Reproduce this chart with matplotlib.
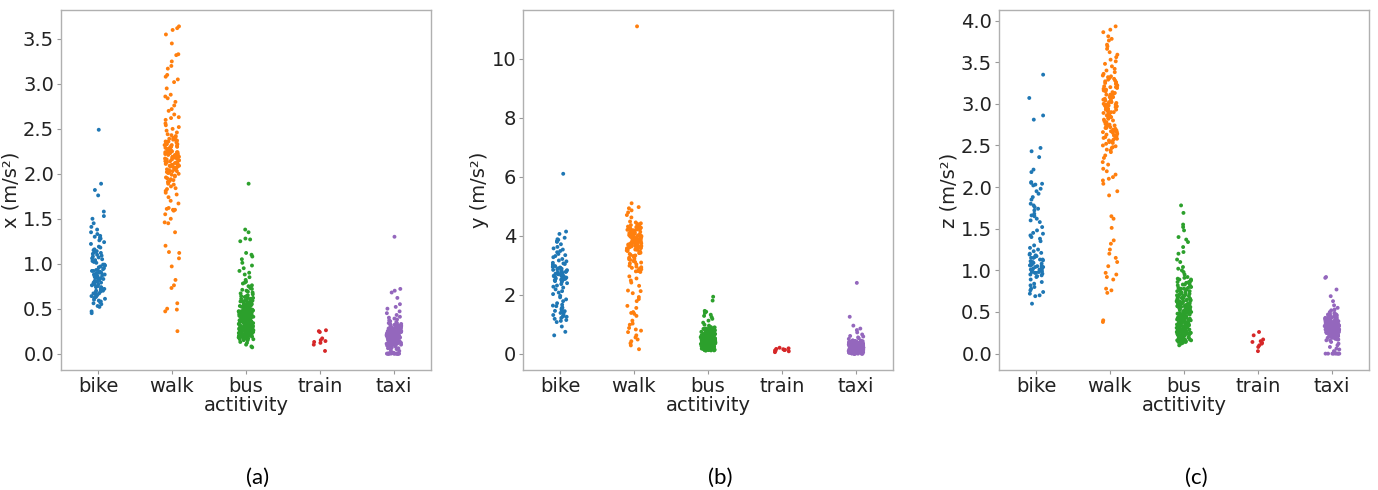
import numpy as np
import pandas as pd
import matplotlib
matplotlib.use('Agg')
import matplotlib.pyplot as plt
import seaborn as sns

activities = ['bike', 'walk', 'bus', 'train', 'taxi']
colors = ['#1f77b4', '#ff7f0e', '#2ca02c', '#d62728', '#9467bd']

# ---- panel (a): x acceleration ----
x_bike = [2.49, 1.89, 1.82, 1.76, 1.58, 1.53, 1.50, 1.45, 1.41, 1.38, 1.35, 1.33, 1.31, 1.30, 1.28,
          1.26, 1.22, 1.19, 1.16, 1.14, 1.13, 1.12, 1.10, 1.08, 1.07, 1.05, 1.04, 1.02, 1.01, 0.99,
          0.98, 0.97, 0.95, 0.94, 0.93, 0.92, 0.91, 0.90, 0.89, 0.88, 0.87, 0.86, 0.86, 0.85, 0.84,
          0.83, 0.82, 0.81, 0.80, 0.80, 0.79, 0.78, 0.77, 0.76, 0.75, 0.74, 0.74, 0.73, 0.72, 0.71,
          0.70, 0.69, 0.68, 0.67, 0.66, 0.65, 0.64, 0.62, 0.61, 0.60, 0.58, 0.57, 0.55, 0.53, 0.52,
          0.47, 0.45, 1.15, 1.11, 1.06, 1.03, 0.96, 0.92, 0.88, 0.84, 0.82, 0.79, 0.77, 0.72, 0.70,
          0.90, 0.93, 0.99, 1.09, 1.18, 1.24, 1.29, 0.63, 0.59, 0.56, 0.67, 0.71, 0.87]
x_walk = [3.64, 3.62, 3.60, 3.55, 3.45, 3.33, 3.32, 3.25, 3.20, 3.17, 3.10, 3.08, 3.05, 3.02, 2.95,
          2.88, 2.86, 2.84, 2.80, 2.76, 2.72, 2.70, 2.66, 2.63, 2.62, 2.60, 2.56, 2.54, 2.52, 2.50,
          2.31, 2.27, 2.36, 2.18, 2.22, 2.09, 2.14, 2.33, 2.25, 2.41, 2.05, 1.98, 2.12, 2.20, 2.29,
          2.38, 2.16, 2.02, 1.94, 2.24, 2.35, 2.11, 2.07, 2.19, 2.28, 2.44, 1.89, 2.03, 2.15, 2.21,
          2.32, 2.26, 2.13, 2.08, 1.96, 2.23, 2.17, 2.30, 2.39, 2.01, 1.86, 2.10, 2.34, 2.24, 2.19,
          2.06, 2.27, 2.15, 2.42, 1.92, 2.00, 2.12, 2.37, 2.22, 2.29, 1.84, 2.04, 2.18, 2.33, 2.09,
          2.25, 2.46, 1.81, 1.99, 2.14, 2.20, 2.31, 2.36, 2.11, 2.03, 1.79, 1.95, 2.26, 2.16, 2.40,
          2.07, 2.23, 1.88, 2.13, 2.28, 2.35, 2.02, 1.91, 2.21, 2.10, 2.32, 2.17, 2.43, 1.83, 2.05,
          2.19, 2.38, 1.97, 2.08, 2.24, 2.30, 2.14, 1.93, 2.48, 2.01,
          1.77, 1.74, 1.70, 1.67, 1.62, 1.61, 1.60, 1.60, 1.59, 1.55, 1.50, 1.46, 1.45,
          1.35, 1.20, 1.13, 1.12, 1.06, 0.97, 0.82, 0.76, 0.73, 0.56, 0.50, 0.49, 0.47, 0.25]
x_bus = [1.89, 1.38, 1.35, 1.28, 1.27, 1.25, 1.12, 1.10, 1.08, 1.05, 1.01, 0.98, 0.95, 0.92, 0.90,
         0.88, 0.85, 0.82, 0.80, 0.79, 0.78, 0.76, 0.75, 0.73, 0.72, 0.71, 0.07, 0.08, 0.10, 0.12, 0.13,
         0.31, 0.45, 0.22, 0.58, 0.37, 0.19, 0.41, 0.28, 0.53, 0.34, 0.26, 0.62, 0.47, 0.17, 0.39,
         0.55, 0.24, 0.33, 0.49, 0.21, 0.36, 0.44, 0.29, 0.67, 0.18, 0.52, 0.40, 0.27, 0.35, 0.60,
         0.23, 0.46, 0.32, 0.57, 0.20, 0.43, 0.38, 0.25, 0.50, 0.30, 0.64, 0.16, 0.42, 0.35, 0.56,
         0.28, 0.48, 0.22, 0.37, 0.33, 0.59, 0.19, 0.45, 0.27, 0.51, 0.39, 0.24, 0.68, 0.31, 0.44,
         0.21, 0.36, 0.54, 0.29, 0.41, 0.17, 0.47, 0.34, 0.26, 0.61, 0.38, 0.23, 0.49, 0.32, 0.15,
         0.43, 0.57, 0.28, 0.35, 0.20, 0.52, 0.40, 0.25, 0.65, 0.30, 0.46, 0.18, 0.37, 0.55, 0.27,
         0.42, 0.33, 0.22, 0.58, 0.39, 0.48, 0.24, 0.31, 0.63, 0.19, 0.44, 0.36, 0.53, 0.26, 0.40,
         0.29, 0.70, 0.21, 0.47, 0.34, 0.56, 0.23, 0.38, 0.45, 0.17, 0.32, 0.50, 0.28, 0.41, 0.25,
         0.60, 0.35, 0.20, 0.43, 0.30, 0.54, 0.37, 0.16, 0.48, 0.27, 0.39, 0.66, 0.22, 0.33, 0.46,
         0.29, 0.52, 0.18, 0.42, 0.36, 0.24, 0.57, 0.31, 0.44, 0.21, 0.38, 0.49, 0.26, 0.62, 0.34,
         0.19, 0.41, 0.30, 0.55, 0.23, 0.47, 0.35, 0.28, 0.40, 0.59, 0.17, 0.32, 0.45, 0.25, 0.51,
         0.37, 0.20, 0.43, 0.29, 0.64, 0.36, 0.22, 0.48, 0.33, 0.27, 0.53, 0.39, 0.18, 0.44, 0.31,
         0.69, 0.24, 0.40, 0.35, 0.58, 0.21, 0.46, 0.30, 0.26, 0.50, 0.38, 0.15, 0.42, 0.34, 0.61,
         0.28, 0.47, 0.23, 0.37, 0.54]
x_train = [0.26, 0.24, 0.25, 0.14, 0.12, 0.15, 0.17, 0.10, 0.03, 0.13]
x_taxi = [1.30, 0.72, 0.70, 0.68, 0.62, 0.55, 0.52, 0.50, 0.47, 0.45, 0.43, 0.41, 0.40, 0.39, 0.38,
          0.37, 0.36, 0.0, 0.0, 0.0, 0.0, 0.0, 0.0, 0.0, 0.0, 0.0, 0.0, 0.0, 0.0, 0.0, 0.0,
          0.01, 0.01, 0.01, 0.01,
          0.18, 0.25, 0.12, 0.31, 0.21, 0.09, 0.27, 0.15, 0.22, 0.33, 0.14, 0.19, 0.28, 0.07, 0.24,
          0.17, 0.30, 0.11, 0.23, 0.20, 0.26, 0.13, 0.34, 0.16, 0.21, 0.29, 0.10, 0.25, 0.18, 0.05,
          0.22, 0.32, 0.14, 0.27, 0.19, 0.24, 0.12, 0.30, 0.17, 0.23, 0.08, 0.26, 0.20, 0.15, 0.28,
          0.22, 0.11, 0.35, 0.18, 0.25, 0.13, 0.21, 0.31, 0.16, 0.24, 0.06, 0.19, 0.27, 0.14, 0.22,
          0.29, 0.17, 0.10, 0.23, 0.20, 0.33, 0.15, 0.26, 0.12, 0.18, 0.25, 0.21, 0.09, 0.28, 0.16,
          0.24, 0.19, 0.30, 0.13, 0.22, 0.04, 0.27, 0.17, 0.20, 0.32, 0.14, 0.23, 0.11, 0.26, 0.18,
          0.21, 0.29, 0.15, 0.25, 0.07, 0.19, 0.22, 0.34, 0.16, 0.24, 0.12, 0.28, 0.20, 0.17, 0.31,
          0.23, 0.10, 0.26, 0.18, 0.21, 0.14, 0.27, 0.03, 0.24, 0.19, 0.30, 0.16, 0.22, 0.13, 0.25,
          0.20, 0.08, 0.29, 0.17, 0.23, 0.15, 0.33, 0.21, 0.11, 0.26, 0.18, 0.24, 0.14, 0.28, 0.19,
          0.06, 0.22, 0.31, 0.16, 0.25, 0.12, 0.20, 0.27, 0.17, 0.23, 0.09, 0.30, 0.15, 0.21, 0.19]

# ---- panel (b): y acceleration ----
y_bike = [6.10, 4.14, 4.06, 3.93, 3.88, 3.86, 3.81, 3.79, 3.71, 3.62, 3.57, 3.53, 3.44, 3.38, 3.31,
          3.27, 3.21, 3.16, 3.13, 3.08, 3.04, 3.01, 2.97, 2.94, 2.91, 2.89, 2.86, 2.83, 2.81, 2.79,
          2.77, 2.75, 2.73, 2.71, 2.69, 2.67, 2.66, 2.64, 2.63, 2.61, 2.59, 2.57, 2.55, 2.53, 2.51,
          2.49, 2.46, 2.43, 2.39, 2.36, 2.31, 2.24, 2.18, 2.12, 2.07, 2.02, 1.96, 1.91, 1.84, 1.78,
          1.71, 1.66, 1.61, 1.57, 1.52, 1.48, 1.45, 1.42, 1.38, 1.35, 1.31, 1.28, 1.25, 1.21, 1.18,
          1.14, 1.11, 1.07, 0.92, 0.74, 0.62, 2.72, 2.65, 2.58, 2.84, 2.92, 3.06, 2.48, 2.54, 2.68,
          2.78, 2.88, 2.60, 3.34, 3.48, 1.63, 1.44, 1.26, 1.55, 2.27]
y_walk = [11.10, 5.10, 4.97, 4.93, 4.86, 4.79, 4.70, 4.62,
          4.21, 3.87, 4.05, 3.62, 4.33, 3.95, 4.12, 3.71, 4.27, 3.54, 4.01, 3.83, 4.40, 3.66, 3.92,
          4.16, 3.48, 4.08, 3.77, 4.24, 3.58, 3.99, 4.36, 3.81, 4.03, 3.69, 4.19, 3.41, 3.90, 4.45,
          3.73, 4.10, 3.86, 3.35, 4.29, 3.97, 3.63, 4.14, 3.79, 4.02, 3.52, 4.38, 3.88, 3.28, 4.07,
          3.75, 4.23, 3.60, 3.94, 4.17, 3.45, 3.84, 4.31, 3.70, 4.00, 3.22, 4.11, 3.91, 3.57, 4.26,
          3.80, 3.14, 4.04, 3.67, 4.42, 3.89, 3.50, 4.20, 3.76, 3.09, 3.98, 4.13, 3.64, 3.85, 4.34,
          3.03, 3.72, 4.06, 3.56, 3.93, 2.98, 4.25, 3.82, 3.38, 4.09, 3.68, 2.93, 3.96, 4.18, 3.61,
          3.31, 2.88, 3.78, 4.03, 3.47, 2.84, 3.86, 4.15, 3.25, 2.80, 3.74, 3.92, 3.18, 2.77, 4.28,
          3.59, 2.95, 3.42, 4.48, 3.11, 2.86, 3.65, 4.00, 3.33, 2.79, 3.83, 3.06, 4.22, 3.53, 2.91,
          3.71, 3.20,
          2.62, 2.55, 2.48, 2.41, 2.30, 2.14, 2.12, 2.05, 1.92, 1.85, 1.78, 1.62, 1.55, 1.41, 1.38,
          1.35, 1.28, 1.12, 1.02, 0.98, 0.87, 0.82, 0.78, 0.73, 0.62, 0.55, 0.48, 0.42, 0.35, 0.28,
          0.15]
y_bus = [1.93, 1.80, 1.45, 1.42, 1.38, 1.32, 1.28, 1.24, 1.18, 1.12, 1.05, 0.98, 0.95,
         0.42, 0.18, 0.65, 0.31, 0.77, 0.24, 0.53, 0.12, 0.46, 0.36, 0.70, 0.21, 0.58, 0.29, 0.84,
         0.15, 0.49, 0.38, 0.62, 0.26, 0.11, 0.55, 0.33, 0.74, 0.19, 0.44, 0.67, 0.28, 0.51, 0.35,
         0.80, 0.22, 0.47, 0.14, 0.60, 0.39, 0.72, 0.25, 0.57, 0.32, 0.17, 0.64, 0.41, 0.87, 0.27,
         0.52, 0.13, 0.45, 0.69, 0.34, 0.23, 0.59, 0.37, 0.76, 0.20, 0.48, 0.30, 0.63, 0.16, 0.54,
         0.43, 0.82, 0.26, 0.50, 0.10, 0.66, 0.35, 0.73, 0.22, 0.40, 0.57, 0.29, 0.89, 0.18, 0.46,
         0.61, 0.33, 0.71, 0.24, 0.52, 0.14, 0.44, 0.68, 0.31, 0.79, 0.21, 0.56, 0.38, 0.62, 0.27,
         0.49, 0.12, 0.75, 0.36, 0.58, 0.19, 0.42, 0.85, 0.30, 0.65, 0.25, 0.53, 0.15, 0.47, 0.70,
         0.34, 0.60, 0.23, 0.41, 0.78, 0.28, 0.55, 0.11, 0.50, 0.37, 0.67, 0.20, 0.45, 0.83, 0.32,
         0.59, 0.17, 0.43, 0.72, 0.26, 0.51, 0.39, 0.64, 0.13, 0.48, 0.35, 0.76, 0.22, 0.57, 0.29,
         0.90, 0.40, 0.61, 0.18, 0.44, 0.69, 0.33, 0.54, 0.24, 0.81, 0.14, 0.46, 0.37, 0.66, 0.27,
         0.52, 0.21, 0.74, 0.31, 0.58, 0.16, 0.42, 0.63, 0.36, 0.88, 0.25, 0.49, 0.12, 0.56, 0.30,
         0.71, 0.19, 0.45, 0.38, 0.60, 0.28, 0.80, 0.23, 0.53, 0.34, 0.67, 0.15, 0.41, 0.77, 0.32,
         0.50, 0.20, 0.62, 0.26, 0.47, 0.86, 0.35, 0.57, 0.13, 0.43, 0.73, 0.29, 0.55, 0.22, 0.39,
         0.68, 0.17, 0.48, 0.33, 0.64]
y_train = [0.20, 0.18, 0.16, 0.15, 0.13, 0.12, 0.10, 0.08, 0.05, 0.11]
y_taxi = [2.40, 1.25, 0.95, 0.85, 0.80, 0.72, 0.65, 0.60, 0.58, 0.55, 0.52, 0.50,
          0.0, 0.0, 0.0, 0.0, 0.0, 0.0, 0.0, 0.0, 0.0, 0.0,
          0.21, 0.35, 0.08, 0.28, 0.15, 0.42, 0.11, 0.31, 0.19, 0.04, 0.26, 0.38, 0.13, 0.23, 0.33,
          0.07, 0.29, 0.17, 0.40, 0.10, 0.24, 0.36, 0.14, 0.30, 0.02, 0.20, 0.44, 0.12, 0.27, 0.18,
          0.34, 0.09, 0.25, 0.39, 0.16, 0.22, 0.05, 0.32, 0.13, 0.28, 0.37, 0.19, 0.11, 0.26, 0.43,
          0.15, 0.30, 0.06, 0.23, 0.35, 0.17, 0.29, 0.10, 0.41, 0.21, 0.14, 0.33, 0.03, 0.25, 0.38,
          0.12, 0.27, 0.20, 0.45, 0.16, 0.31, 0.08, 0.24, 0.36, 0.18, 0.22, 0.40, 0.13, 0.29, 0.01,
          0.34, 0.19, 0.26, 0.11, 0.32, 0.15, 0.37, 0.23, 0.07, 0.28, 0.42, 0.17, 0.30, 0.14, 0.21,
          0.35, 0.09, 0.25, 0.39, 0.20, 0.12, 0.33, 0.27, 0.04, 0.18, 0.31, 0.16, 0.44, 0.22, 0.10,
          0.29, 0.36, 0.13, 0.24, 0.19, 0.06, 0.34, 0.27, 0.15, 0.41, 0.21, 0.11, 0.32, 0.26, 0.17,
          0.38, 0.23, 0.08, 0.30, 0.14, 0.25, 0.35, 0.02, 0.20, 0.28, 0.12, 0.33, 0.18, 0.43, 0.22,
          0.09, 0.31, 0.16, 0.27, 0.24]

# ---- panel (c): z acceleration ----
z_bike = [3.35, 3.07, 2.86, 2.81, 2.47, 2.43, 2.36, 2.21, 2.18, 2.06, 2.05, 2.04, 2.03, 2.02, 1.98,
          1.95, 1.92, 1.88, 1.85, 1.80, 1.78, 1.76, 1.74, 1.72, 1.68, 1.66, 1.65, 1.62, 1.60, 1.58,
          1.52, 1.48, 1.45, 1.44, 1.42, 1.40, 1.38, 1.35, 1.30, 1.27, 1.25, 1.23, 1.21, 1.19, 1.17,
          1.15, 1.13, 1.12, 1.05, 0.98, 1.08, 1.02, 0.95, 1.15, 1.00, 1.10, 0.97, 1.04, 1.18, 0.93,
          1.07, 1.01, 0.99, 1.13, 1.06, 0.96, 1.03, 1.09, 0.94, 1.11, 1.00, 1.05, 0.92, 1.16, 1.02,
          0.98, 1.08, 1.04, 0.97, 1.20, 1.01, 1.06, 0.89, 0.86, 0.84, 0.82, 0.80, 0.78, 0.76, 0.74,
          0.72, 0.70, 0.69, 0.60]
z_walk = [3.93, 3.89, 3.86, 3.81, 3.78, 3.76, 3.71, 3.69, 3.66, 3.62, 3.59, 3.56, 3.53, 3.51, 3.48,
          3.45, 3.42, 3.40,
          3.05, 2.72, 3.21, 2.58, 2.94, 3.33, 2.66, 3.11, 2.87, 2.49, 3.18, 2.99, 2.76, 3.28, 2.62,
          3.02, 2.91, 2.54, 3.14, 2.83, 3.36, 2.69, 3.08, 2.45, 2.96, 3.24, 2.74, 3.00, 2.59, 3.17,
          2.88, 2.67, 3.31, 2.93, 2.52, 3.09, 2.79, 3.20, 2.63, 2.98, 3.04, 2.71, 3.26, 2.56, 2.90,
          3.13, 2.81, 2.47, 3.38, 2.95, 2.68, 3.07, 2.85, 3.22, 2.60, 3.01, 2.77, 2.42, 3.16, 2.92,
          2.73, 3.30, 2.64, 3.06, 2.89, 2.55, 3.19, 2.97, 2.70, 3.12, 2.84, 3.34, 2.61, 3.03, 2.75,
          2.50, 3.25, 2.94, 2.66, 3.10, 2.80, 3.00, 2.57, 3.15, 2.86, 2.44, 3.27, 2.96, 2.71, 3.08,
          2.62, 3.32, 2.90, 2.53, 3.02, 2.78, 3.20, 2.68, 2.98, 2.48, 3.11, 2.82, 3.23, 2.59, 2.93,
          3.05, 2.74, 3.29, 2.65, 2.99,
          2.38, 2.35, 2.30, 2.27, 2.22, 2.19, 2.15, 2.12, 2.10, 2.08, 2.04, 1.95, 1.90,
          1.65, 1.62, 1.51, 1.36, 1.32, 1.25, 1.20, 1.15, 1.10, 1.05, 0.97, 0.95, 0.92, 0.89, 0.78,
          0.76, 0.73, 0.40, 0.38]
z_bus = [1.78, 1.69, 1.55, 1.52, 1.48, 1.40, 1.37, 1.34, 1.28, 1.22, 1.20, 1.13, 1.10, 1.04, 1.02,
         1.00, 0.98, 0.95, 0.92, 0.91, 0.10, 0.12,
         0.45, 0.22, 0.68, 0.33, 0.81, 0.27, 0.56, 0.16, 0.49, 0.38, 0.73, 0.24, 0.61, 0.31, 0.86,
         0.19, 0.52, 0.41, 0.65, 0.28, 0.14, 0.58, 0.36, 0.77, 0.21, 0.47, 0.70, 0.30, 0.54, 0.39,
         0.83, 0.25, 0.50, 0.17, 0.63, 0.42, 0.75, 0.27, 0.60, 0.35, 0.20, 0.67, 0.44, 0.89, 0.29,
         0.55, 0.15, 0.48, 0.72, 0.37, 0.26, 0.62, 0.40, 0.79, 0.23, 0.51, 0.33, 0.66, 0.18, 0.57,
         0.46, 0.85, 0.28, 0.53, 0.13, 0.69, 0.38, 0.76, 0.24, 0.43, 0.60, 0.31, 0.88, 0.21, 0.49,
         0.64, 0.35, 0.74, 0.26, 0.55, 0.17, 0.47, 0.71, 0.34, 0.82, 0.23, 0.59, 0.41, 0.65, 0.30,
         0.52, 0.15, 0.78, 0.39, 0.61, 0.22, 0.45, 0.87, 0.33, 0.68, 0.27, 0.56, 0.18, 0.50, 0.73,
         0.36, 0.63, 0.25, 0.44, 0.80, 0.31, 0.58, 0.14, 0.53, 0.40, 0.70, 0.22, 0.48, 0.84, 0.35,
         0.62, 0.20, 0.46, 0.75, 0.29, 0.54, 0.42, 0.67, 0.16, 0.51, 0.37, 0.79, 0.24, 0.60, 0.32,
         0.90, 0.43, 0.64, 0.21, 0.47, 0.72, 0.35, 0.57, 0.26, 0.83, 0.17, 0.49, 0.40, 0.69, 0.30,
         0.55, 0.23, 0.77, 0.34, 0.61, 0.19, 0.45, 0.66, 0.38, 0.89, 0.28, 0.52, 0.15, 0.59, 0.33,
         0.74, 0.22, 0.48, 0.41, 0.63, 0.31, 0.81, 0.25, 0.56, 0.36, 0.70, 0.18, 0.44, 0.78, 0.35,
         0.53, 0.23, 0.65, 0.29, 0.50, 0.86, 0.38, 0.60, 0.16, 0.46, 0.76, 0.32, 0.58, 0.25, 0.42,
         0.71, 0.20, 0.51, 0.36, 0.67]
z_train = [0.26, 0.22, 0.17, 0.15, 0.14, 0.13, 0.12, 0.10, 0.08, 0.03]
z_taxi = [0.92, 0.91, 0.77, 0.69, 0.63, 0.58, 0.55, 0.53, 0.52,
          0.0, 0.0, 0.0, 0.0, 0.0, 0.0, 0.0, 0.0, 0.02, 0.03, 0.05, 0.06, 0.08, 0.10, 0.12, 0.14, 0.16,
          0.32, 0.25, 0.41, 0.19, 0.36, 0.28, 0.45, 0.22, 0.34, 0.30, 0.17, 0.39, 0.27, 0.48, 0.23,
          0.33, 0.37, 0.20, 0.43, 0.29, 0.35, 0.26, 0.31, 0.46, 0.18, 0.38, 0.24, 0.42, 0.30, 0.33,
          0.21, 0.36, 0.28, 0.50, 0.25, 0.40, 0.32, 0.19, 0.44, 0.34, 0.27, 0.37, 0.23, 0.31, 0.47,
          0.29, 0.35, 0.16, 0.39, 0.26, 0.33, 0.42, 0.22, 0.30, 0.36, 0.28, 0.45, 0.24, 0.38, 0.31,
          0.20, 0.34, 0.41, 0.27, 0.32, 0.49, 0.25, 0.37, 0.29, 0.35, 0.18, 0.43, 0.30, 0.26, 0.39,
          0.33, 0.22, 0.46, 0.28, 0.36, 0.31, 0.24, 0.40, 0.34, 0.21, 0.38, 0.27, 0.44, 0.32, 0.29,
          0.35, 0.19, 0.42, 0.26, 0.37, 0.30, 0.48, 0.23, 0.33, 0.39, 0.28, 0.36, 0.17, 0.41, 0.31,
          0.25, 0.45, 0.34, 0.22, 0.38, 0.30, 0.27, 0.43, 0.20, 0.35, 0.32, 0.40, 0.24, 0.37, 0.29,
          0.33, 0.47, 0.26, 0.39, 0.21, 0.36, 0.31, 0.44, 0.28, 0.34]

panels = [
    ('x (m/s²)', [x_bike, x_walk, x_bus, x_train, x_taxi], '(a)'),
    ('y (m/s²)', [y_bike, y_walk, y_bus, y_train, y_taxi], '(b)'),
    ('z (m/s²)', [z_bike, z_walk, z_bus, z_train, z_taxi], '(c)'),
]

W, H = 1378, 490
fig = plt.figure(figsize=(W / 100, H / 100), dpi=100)
lefts = [61, 523, 999]
np.random.seed(3)

for left, (ylab, vals, tag) in zip(lefts, panels):
    ax = fig.add_axes([left / W, 120 / H, 370 / W, 360 / H])
    df = pd.DataFrame({
        'activity': np.repeat(activities, [len(v) for v in vals]),
        'value': np.concatenate(vals),
    })
    sns.stripplot(data=df, x='activity', y='value', hue='activity', order=activities,
                  palette=colors, size=2.8, jitter=True, legend=False, ax=ax)
    ax.set_ylabel(ylab, fontsize=14, labelpad=2, color='#222222')
    ax.set_xlabel('actitivity', fontsize=14, labelpad=0, color='#222222')
    ax.tick_params(labelsize=14, color='#999999', length=3, pad=2, labelcolor='#222222')
    for sp in ax.spines.values():
        sp.set_color('#b0b0b0')
        sp.set_linewidth(1.0)
    ax.set_xlim(-0.5, 4.5)
    fig.text((left + 197) / W, 1 - 478 / H, tag, fontsize=16, family='Lato',
             ha='center', va='center')

fig.savefig('out.png', dpi=100)
